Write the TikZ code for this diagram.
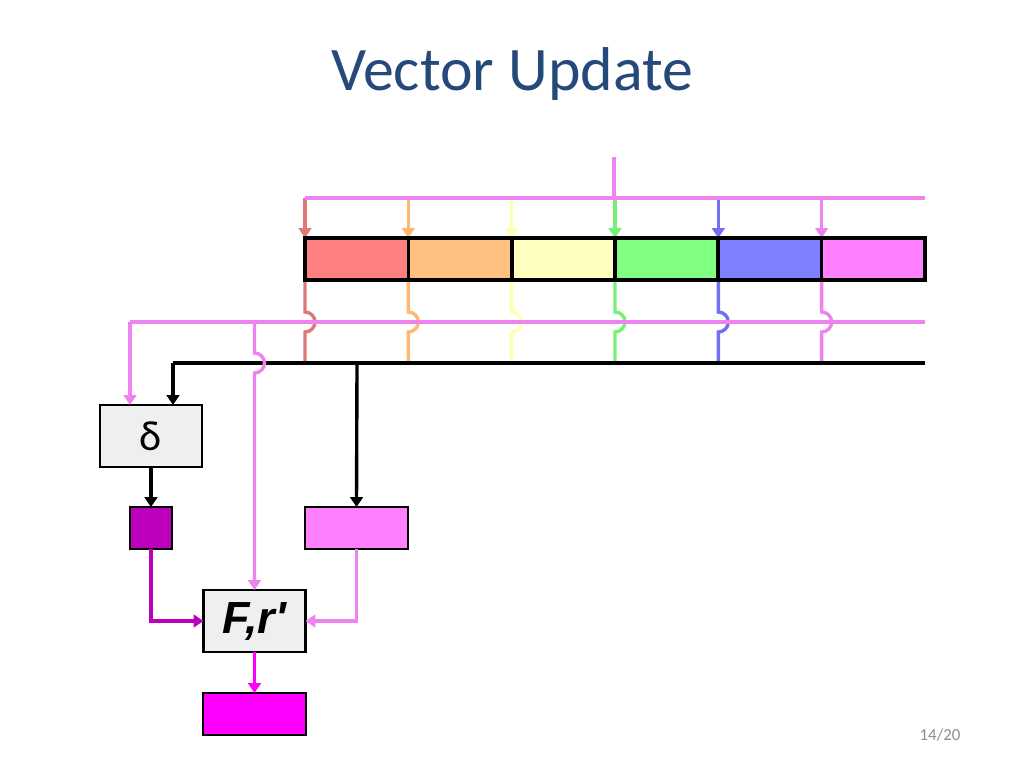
\documentclass[tikz,border=0pt]{standalone}
\usepackage{fontspec}
\setmainfont{Carlito}
\newfontfamily\arialfont{Liberation Sans}
\usepackage{tikz}
\usetikzlibrary{
  arrows.meta,
  positioning
}
\definecolor{TitleBlue}{HTML}{24497A}
\definecolor{PageGray}{HTML}{8C8C8C}
\definecolor{BoxGray}{HTML}{EFEFEF}
\definecolor{CellRed}{HTML}{FF8080}
\definecolor{CellOrange}{HTML}{FFC080}
\definecolor{CellYellow}{HTML}{FFFFC0}
\definecolor{CellGreen}{HTML}{80FF80}
\definecolor{CellBlue}{HTML}{8080FF}
\definecolor{CellPink}{HTML}{FF80FF}
\definecolor{WireRed}{HTML}{E07878}
\definecolor{WireOrange}{HTML}{FFB870}
\definecolor{WireYellow}{HTML}{FFFFB0}
\definecolor{WireGreen}{HTML}{78F078}
\definecolor{WireBlue}{HTML}{7070F0}
\definecolor{WireViolet}{HTML}{EE82EE}
\definecolor{DarkPurple}{HTML}{BC00BC}
\definecolor{BrightMag}{HTML}{FF00FF}
\tikzset{
  % Vector cell: filled slot of the array
  cell/.style={
    rectangle, draw=black, line width=2.6pt, fill=#1,
    minimum width=2.583cm, minimum height=1.05cm,
    outer sep=0pt, inner sep=0pt
  },
  % Operator box
  opbox/.style={
    rectangle, draw=black, line width=2pt, fill=BoxGray,
    minimum width=2.55cm, minimum height=1.55cm,
    outer sep=0pt, inner sep=0pt
  },
  % Result box
  resbox/.style={
    rectangle, draw=black, line width=2pt, fill=#1,
    minimum height=1.05cm, outer sep=0pt, inner sep=0pt
  },
  % Plain wire
  wire/.style={line width=2.4pt, color=#1},
  % Wire with arrow tip
  arr/.style={
    -{Triangle[length=7pt,width=9pt]},
    line width=2.4pt, color=#1
  }
}

\begin{document}
\begin{tikzpicture}[x=0.025cm, y=-0.025cm]
  \useasboundingbox (0,0) rectangle (1024,768);

  % Title and page number
  \node[font=\fontsize{44}{52}\selectfont, text=TitleBlue] (title) at (512,74) {Vector Update};
  \node[font=\fontsize{12}{14}\selectfont, text=PageGray] (pagenum) at (940,735) {14/20};

  % Bus end points
  \coordinate (src) at (614,157);
  \coordinate (topbus) at (614,198);
  \coordinate (topR) at (925,198);
  \coordinate (pbusR) at (925,322);
  \coordinate (pbusL) at (130,322);
  \coordinate (pbusF) at (254.5,322);
  \coordinate (bbusR) at (925,363);
  \coordinate (bbusL) at (173,363);
  \coordinate (bbusP) at (357,363);

  % Vector cells with their incoming and outgoing wires
  \foreach \i/\cc/\wc in {1/CellRed/WireRed, 2/CellOrange/WireOrange, 3/CellYellow/WireYellow,
                          4/CellGreen/WireGreen, 5/CellBlue/WireBlue, 6/CellPink/WireViolet}{
    \node[cell=\cc] (c\i) at ({305+(\i-0.5)*103.33},259) {};
    \draw[arr=\wc] (c\i.north west |- topbus) -- (c\i.north west);
    \draw[wire=\wc] (c\i.south west) -- ++(0,32)
      arc[start angle=-90, end angle=90, radius=10] -- (c\i.south west |- bbusR);
  }
  \foreach \i in {1,...,6}{
    \draw[black, line width=2.6pt] (c\i.north west) rectangle (c\i.south east);
  }

  % Top feed
  \draw[wire=WireViolet] (src) -- (topbus);
  \draw[wire=WireViolet] (c1.north west |- topbus) -- (topR);

  % Operator and result boxes
  \node[opbox] (delta) at (151,436) {\fontsize{30}{34}\selectfont δ};
  \node[resbox=DarkPurple, minimum width=1.05cm] (dres) at (151,528) {};
  \node[resbox=CellPink, minimum width=2.575cm] (pres) at (356.5,528) {};
  \node[opbox] (fr) at (254.5,621) {\arialfont\bfseries\itshape\fontsize{32}{36}\selectfont F,r'};
  \node[resbox=BrightMag, minimum width=2.575cm] (out) at (254.5,714) {};

  % Middle buses
  \draw[wire=WireViolet] (pbusR) -- (pbusL);
  \draw[arr=WireViolet] (pbusL) -- (pbusL |- delta.north);
  \draw[black, line width=2.4pt] (bbusR) -- (bbusL);
  \draw[arr=black] (bbusL) -- (bbusL |- delta.north);
  \draw[arr=black] (bbusP) -- (pres.north);
  \draw[arr=WireViolet] (pbusF) -- ++(0,31)
    arc[start angle=-90, end angle=90, radius=10] -- (fr.north);

  % Lower flow
  \draw[arr=black] (delta.south) -- (dres.north);
  \draw[arr=DarkPurple] (dres.south) |- (fr.west);
  \draw[arr=WireViolet] (pres.south) |- (fr.east);
  \draw[arr=BrightMag] (fr.south) -- (out.north);

\end{tikzpicture}
\end{document}
